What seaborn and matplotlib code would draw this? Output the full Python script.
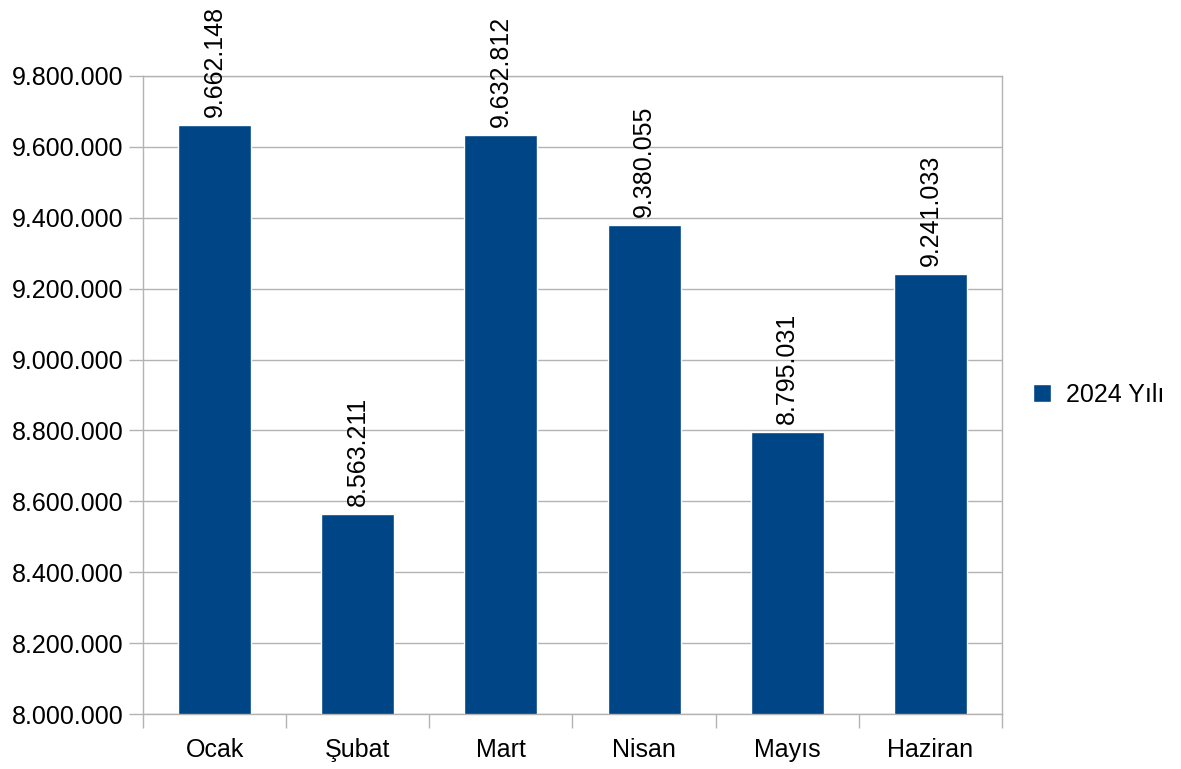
import matplotlib
matplotlib.use("Agg")
import matplotlib.pyplot as plt
import matplotlib.ticker as mticker
import pandas as pd
import seaborn as sns

# data
aylar = ["Ocak", "Şubat", "Mart", "Nisan", "Mayıs", "Haziran"]
degerler = [9662148, 8563211, 9632812, 9380055, 8795031, 9241033]
seri = "2024 Yılı"

df = pd.DataFrame({"Ay": aylar, "Deger": degerler, "Seri": seri})

sns.set_style("white", {"xtick.bottom": True, "ytick.left": True})
plt.rcParams["font.family"] = ["Liberation Sans", "DejaVu Sans"]
plt.rcParams["text.color"] = "black"
plt.rcParams["xtick.color"] = "black"
plt.rcParams["ytick.color"] = "black"

grey = "#b3b3b3"
bar_color = "#004586"
fs = 18

fig = plt.figure(figsize=(11.81, 7.69), dpi=100)
ax = fig.add_axes([0.1211, 0.0715, 0.7273, 0.8297])

sns.barplot(data=df, x="Ay", y="Deger", hue="Seri", palette=[bar_color],
            width=0.51, saturation=1, ax=ax, zorder=2)

ax.set_ylim(8000000, 9800000)
ax.set_xlim(-0.5, len(aylar) - 0.5)
ax.yaxis.set_major_locator(mticker.MultipleLocator(200000))
ax.yaxis.set_major_formatter(
    mticker.FuncFormatter(lambda v, p: f"{int(v):,}".replace(",", ".")))

ax.grid(axis="y", color=grey, linewidth=1, zorder=0)
ax.set_axisbelow(True)
for s in ax.spines.values():
    s.set_color(grey)
    s.set_linewidth(1)

ax.tick_params(axis="y", length=10, color=grey, labelcolor="black", width=1,
               labelsize=fs, pad=4)
ax.tick_params(axis="x", which="major", length=0, labelcolor="black",
               labelsize=fs, pad=17)
ax.set_xticks([i - 0.5 for i in range(len(aylar) + 1)], minor=True)
ax.tick_params(axis="x", which="minor", length=10, color=grey, width=1)
ax.set_xlabel("")
ax.set_ylabel("")

for cont in ax.containers:
    ax.bar_label(cont, labels=[f"{v:,}".replace(",", ".") for v in degerler],
                 rotation=90, padding=6, fontsize=fs, color="black")

sns.move_legend(ax, "center left", bbox_to_anchor=(1.01, 0.5), frameon=False,
                title=None, fontsize=fs, handlelength=0.7, handleheight=0.7,
                handletextpad=0.6)

fig.savefig("out.png", dpi=100)
